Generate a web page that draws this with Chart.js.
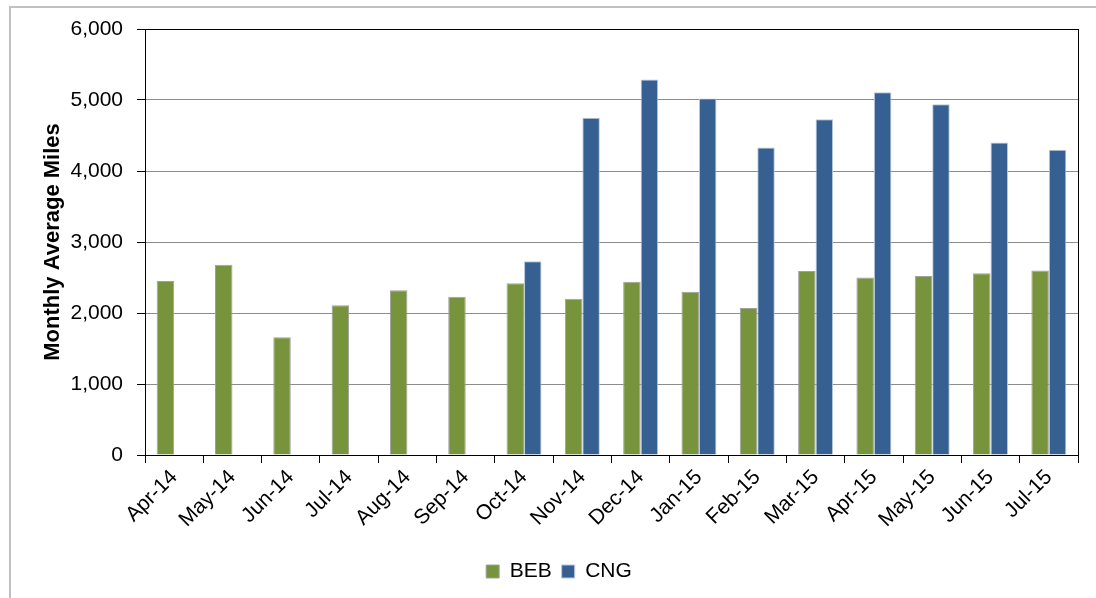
<!DOCTYPE html>
<html>
<head>
<meta charset="utf-8">
<script src="https://cdn.jsdelivr.net/npm/chart.js@4/dist/chart.umd.min.js"></script>
<style>
  html, body { margin: 0; padding: 0; background: #fff; }
  #wrap { width: 1096px; height: 598px; position: relative; }
</style>
</head>
<body>
<div id="wrap"><canvas id="c" width="1096" height="598"></canvas></div>
<script>
const categories = ["Apr-14","May-14","Jun-14","Jul-14","Aug-14","Sep-14","Oct-14","Nov-14","Dec-14","Jan-15","Feb-15","Mar-15","Apr-15","May-15","Jun-15","Jul-15"];
const bebValues = [2450, 2680, 1660, 2110, 2320, 2230, 2420, 2200, 2440, 2300, 2070, 2590, 2500, 2520, 2560, 2600];
const cngValues = [null, null, null, null, null, null, 2730, 4750, 5290, 5020, 4330, 4730, 5110, 4940, 4400, 4300];
const yTicks = [0, 1000, 2000, 3000, 4000, 5000, 6000];

const FONT = "'Liberation Sans', Arial, sans-serif";

const framePlugin = {
  id: 'frame',
  beforeDraw(chart) {
    const ctx = chart.ctx;
    ctx.save();
    ctx.strokeStyle = '#c0c0c0';
    ctx.lineWidth = 2;
    ctx.beginPath();
    ctx.moveTo(10, 598);
    ctx.lineTo(10, 7);
    ctx.lineTo(1096, 7);
    ctx.stroke();
    ctx.restore();
  },
  afterDatasetsDraw(chart) {
    const a = chart.chartArea;
    const ctx = chart.ctx;
    ctx.save();
    ctx.strokeStyle = '#000';
    ctx.lineWidth = 1;
    ctx.strokeRect(Math.round(a.left) + 0.5, Math.round(a.top) + 0.5, Math.round(a.right - a.left), Math.round(a.bottom - a.top));
    ctx.restore();
  }
};

new Chart(document.getElementById('c'), {
  type: 'bar',
  data: {
    labels: categories,
    datasets: [
      { label: 'BEB', data: bebValues, backgroundColor: '#77933C', borderColor: '#a0a0a0', borderWidth: 1 },
      { label: 'CNG', data: cngValues, backgroundColor: '#366092', borderColor: '#b8c7dc', borderWidth: 1 }
    ]
  },
  options: {
    responsive: false,
    devicePixelRatio: 1,
    animation: false,
    layout: { padding: { left: 40, right: 18, top: 29, bottom: 6 } },
    datasets: { bar: { categoryPercentage: 0.6, barPercentage: 1.0 } },
    plugins: {
      legend: {
        position: 'bottom',
        labels: { boxWidth: 13, boxHeight: 13, color: '#000', font: { family: FONT, size: 21 }, padding: 10 }
      },
      tooltip: { enabled: false }
    },
    scales: {
      x: {
        grid: { drawOnChartArea: false, drawTicks: true, tickLength: 8, tickColor: '#000', offset: true },
        border: { color: '#000' },
        ticks: { color: '#000', font: { family: FONT, size: 21 }, minRotation: 45, maxRotation: 45, autoSkip: false, padding: 2 },
        afterFit(scale) { scale.height = 96; }
      },
      y: {
        min: 0, max: 6000,
        afterBuildTicks(scale) { scale.ticks = yTicks.map(v => ({ value: v })); },
        grid: { color: '#8c8c8c', tickColor: '#000', tickLength: 8, lineWidth: 1 },
        border: { color: '#000' },
        ticks: {
          color: '#000', font: { family: FONT, size: 21 }, padding: 14,
          callback: v => Number(v).toLocaleString('en-US')
        },
        title: {
          display: true, text: 'Monthly Average Miles', color: '#000',
          font: { family: FONT, size: 22, weight: 'bold' }, padding: { top: 0, bottom: 0 }
        },
        afterFit(scale) { scale.width = 105; }
      }
    }
  },
  plugins: [framePlugin]
});
</script>
</body>
</html>
